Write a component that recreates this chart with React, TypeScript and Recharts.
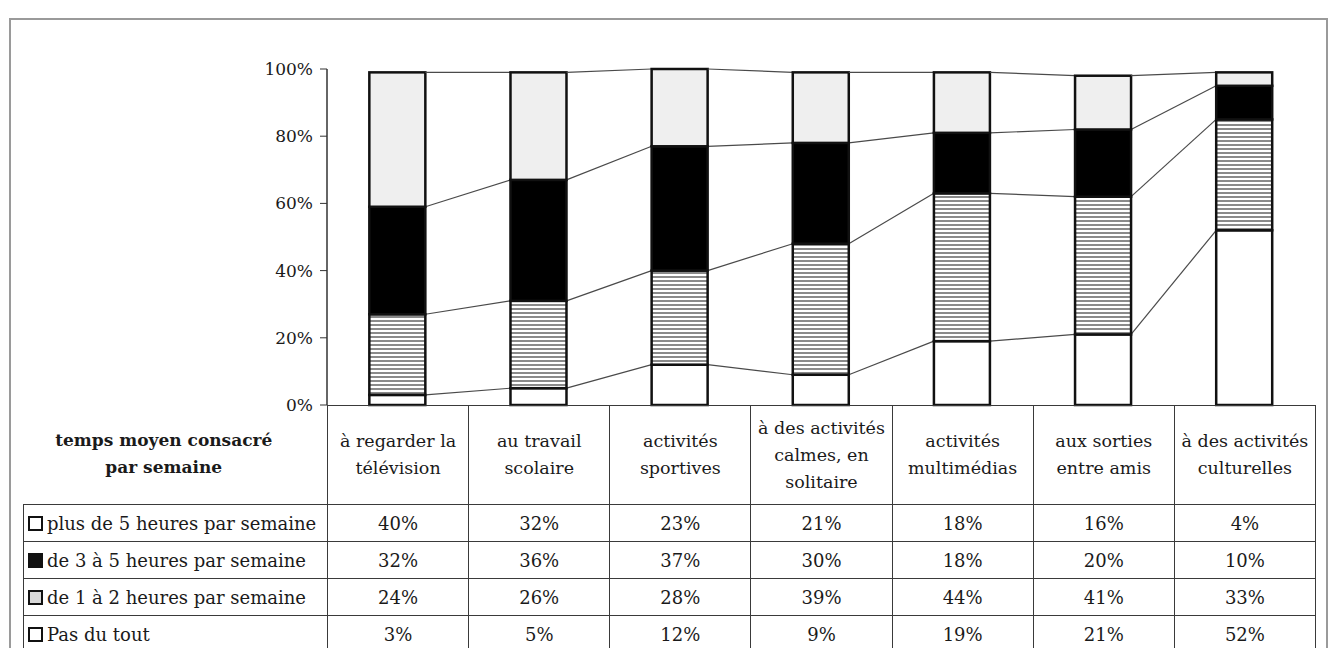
import React from "react";
import { BarChart, Bar, XAxis, YAxis } from "recharts";

// categories (table header, bottom to top stack drawn below)
const categoryLines = [
  ["à regarder la", "télévision"],
  ["au travail", "scolaire"],
  ["activités", "sportives"],
  ["à des activités", "calmes, en", "solitaire"],
  ["activités", "multimédias"],
  ["aux sorties", "entre amis"],
  ["à des activités", "culturelles"],
];
const categories = categoryLines.map((l) => l.join(" "));

const plusDeCinq = [40, 32, 23, 21, 18, 16, 4];
const troisACinq = [32, 36, 37, 30, 18, 20, 10];
const unADeux = [24, 26, 28, 39, 44, 41, 33];
const pasDuTout = [3, 5, 12, 9, 19, 21, 52];

const yTicks = [0, 20, 40, 60, 80, 100];

// table rows, top to bottom
const rowNames = [
  "plus de 5 heures par semaine",
  "de 3 à 5 heures par semaine",
  "de 1 à 2 heures par semaine",
  "Pas du tout",
];
const rowValues = [plusDeCinq, troisACinq, unADeux, pasDuTout];
const rowSwatch = ["#ffffff", "#111111", "#d8d8d8", "#ffffff"];

// stack order, bottom to top
const stackKeys = ["pasDuTout", "unADeux", "troisACinq", "plusDeCinq"];
const stackValues = [pasDuTout, unADeux, troisACinq, plusDeCinq];
const stackFills = ["#ffffff", "url(#stripes)", "#000000", "#efefef"];

const data = categories.map((name, i) => ({
  name,
  pasDuTout: pasDuTout[i],
  unADeux: unADeux[i],
  troisACinq: troisACinq[i],
  plusDeCinq: plusDeCinq[i],
}));

const CHART_W = 1331;
const CHART_H = 420;
const MARGIN = { top: 69, right: 16, left: 0, bottom: 15 };
const Y_AXIS_W = 327;
const BAND = (CHART_W - MARGIN.left - MARGIN.right - Y_AXIS_W) / categories.length;

const FONT = "'DejaVu Serif', serif";
const LINE = "1.5px solid #3a3a3a";

const cumulative = (level: number, i: number) =>
  stackValues.slice(0, level + 1).reduce((s, arr) => s + arr[i], 0);

// segment + series line to the next bar (Excel style)
const makeShape = (level: number) => (props: any) => {
  const { x, y, width, height, index } = props;
  const v = stackValues[level][index];
  const k = v > 0 ? height / v : 0;
  let link = null;
  if (index < categories.length - 1) {
    const ny = y - (cumulative(level, index + 1) - cumulative(level, index)) * k;
    link = (
      <line x1={x + width} y1={y} x2={x + BAND} y2={ny} stroke="#4a4a4a" strokeWidth={1.2} />
    );
  }
  return (
    <g>
      <rect x={x} y={y} width={width} height={height} fill={stackFills[level]} stroke="#111" strokeWidth={2.5} />
      {link}
    </g>
  );
};

export default function App() {
  const colW = BAND;
  return (
    <div
      style={{
        position: "absolute",
        left: 0,
        top: 0,
        width: 1331,
        height: 648,
        background: "#fff",
        overflow: "hidden",
        fontFamily: FONT,
        color: "#1a1a1a",
      }}
    >
      <div
        style={{
          position: "absolute",
          left: 9,
          top: 18,
          width: 1315,
          height: 700,
          border: "2px solid #9a9a9a",
        }}
      />
      <div style={{ position: "absolute", left: 0, top: 0 }}>
        <BarChart width={CHART_W} height={CHART_H} data={data} margin={MARGIN} barCategoryGap="30%">
          <defs>
            <pattern id="stripes" width="6" height="4" patternUnits="userSpaceOnUse">
              <rect width="6" height="4" fill="#ffffff" />
              <rect width="6" height="2" fill="#8a8a8a" />
            </pattern>
          </defs>
          <XAxis dataKey="name" hide />
          <YAxis
            width={Y_AXIS_W}
            domain={[0, 100]}
            ticks={yTicks}
            interval={0}
            tickFormatter={(v) => `${v}%`}
            axisLine={{ stroke: "#333", strokeWidth: 1.5 }}
            tickLine={{ stroke: "#333" }}
            tickSize={7}
            tickMargin={7}
            tick={{ fontFamily: FONT, fontSize: 17, fill: "#1a1a1a" }}
          />
          {stackKeys.map((key, level) => (
            <Bar
              key={key}
              dataKey={key}
              stackId="a"
              fill={stackFills[level]}
              shape={makeShape(level)}
              isAnimationActive={false}
            />
          ))}
        </BarChart>
      </div>
      <table
        style={{
          position: "absolute",
          left: 23,
          top: 405,
          borderCollapse: "collapse",
          tableLayout: "fixed",
          width: 304 + colW * categories.length,
          fontSize: 18,
          fontFamily: FONT,
        }}
      >
        <colgroup>
          <col style={{ width: 304 }} />
          {categories.map((c) => (
            <col key={c} style={{ width: colW }} />
          ))}
        </colgroup>
        <tbody>
          <tr style={{ height: 99 }}>
            <td
              style={{
                borderRight: LINE,
                borderBottom: LINE,
                textAlign: "center",
                fontWeight: "bold",
                fontSize: 17,
                lineHeight: "27px",
                paddingRight: 24,
                paddingTop: 0,
              }}
            >
              temps moyen consacré
              <br />
              par semaine
            </td>
            {categoryLines.map((lines, i) => (
              <td
                key={i}
                style={{
                  border: LINE,
                  textAlign: "center",
                  lineHeight: "27px",
                  fontSize: 17.5,
                  padding: 0,
                  whiteSpace: "nowrap",
                }}
              >
                {lines.map((l, j) => (
                  <div key={j}>{l}</div>
                ))}
              </td>
            ))}
          </tr>
          {rowNames.map((name, r) => (
            <tr key={name} style={{ height: 37 }}>
              <td style={{ border: LINE, padding: "0 0 0 4px", whiteSpace: "nowrap" }}>
                <span
                  style={{
                    display: "inline-block",
                    width: 11,
                    height: 11,
                    border: "2px solid #111",
                    background: rowSwatch[r],
                    marginRight: 4,
                    verticalAlign: "-1px",
                  }}
                />
                {name}
              </td>
              {rowValues[r].map((v, i) => (
                <td key={i} style={{ border: LINE, textAlign: "center", padding: 0 }}>
                  {v}%
                </td>
              ))}
            </tr>
          ))}
        </tbody>
      </table>
    </div>
  );
}
